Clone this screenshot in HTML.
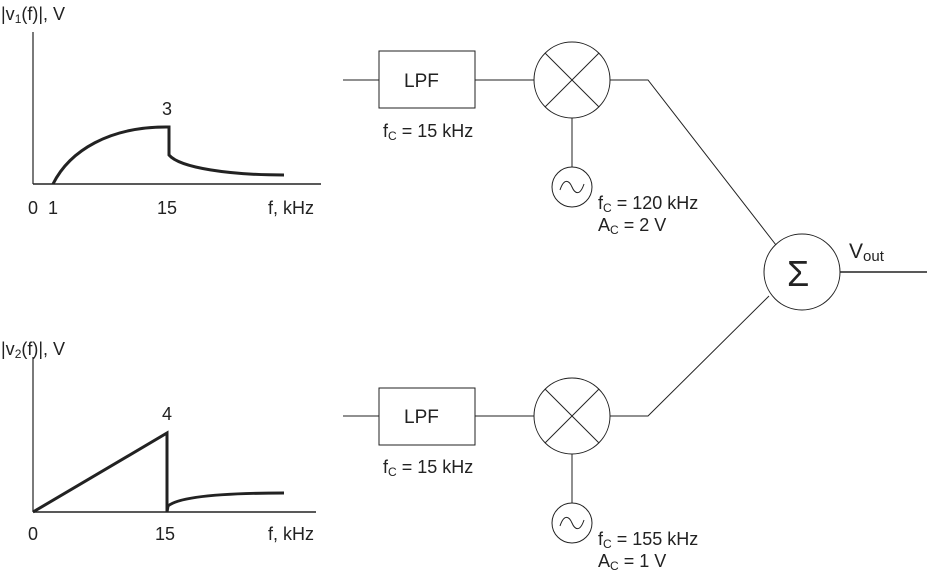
<!DOCTYPE html>
<html><head><meta charset="utf-8"><style>
body{margin:0;background:#fff}
svg text{font-family:"Liberation Sans",Arial,sans-serif;fill:#222}
</style></head><body>
<svg width="927" height="571" viewBox="0 0 927 571" xmlns="http://www.w3.org/2000/svg">
<g stroke="#222" fill="none">
<line x1="33" y1="32" x2="33" y2="184" stroke-width="1.2"/>
<line x1="33" y1="184" x2="321" y2="184" stroke-width="1.5"/>
<path d="M53,184 C70,150 110,127 166,127 L169,127 L169,155 C180,168 230,175 284,175" stroke-width="3"/>
<line x1="33" y1="357" x2="33" y2="512" stroke-width="1.2"/>
<line x1="33" y1="512" x2="316" y2="512" stroke-width="1.5"/>
<path d="M33,512 L167,433 L167,512 L168,506 C180,496 230,493 284,493" stroke-width="3"/>
<line x1="343" y1="80" x2="379" y2="80"/>
<rect x="379" y="51" width="96" height="57"/>
<line x1="475" y1="80" x2="534" y2="80"/>
<circle cx="572" cy="80" r="38"/>
<line x1="545" y1="53" x2="599" y2="107"/><line x1="599" y1="53" x2="545" y2="107"/>
<line x1="572" y1="118" x2="572" y2="167"/>
<circle cx="572" cy="187" r="20"/>
<path d="M560,190 C564,178 569,180 572,187 C575,194 580,196 584,184"/>
<polyline points="610,80 648,80 776,245"/>
<line x1="343" y1="416" x2="379" y2="416"/>
<rect x="379" y="388" width="96" height="57"/>
<line x1="475" y1="416" x2="534" y2="416"/>
<circle cx="572" cy="416" r="38"/>
<line x1="545" y1="389" x2="599" y2="443"/><line x1="599" y1="389" x2="545" y2="443"/>
<line x1="572" y1="454" x2="572" y2="503"/>
<circle cx="572" cy="523" r="20"/>
<path d="M560,526 C564,514 569,516 572,523 C575,530 580,532 584,520"/>
<polyline points="610,416 648,416 769,296"/>
<circle cx="802" cy="272" r="38"/>
<line x1="840" y1="272" x2="927" y2="272" stroke-width="1.5"/>
</g>
<g font-size="18">
<text x="1" y="20">|v<tspan font-size="12" dy="3">1</tspan><tspan dy="-3">(f)|, V</tspan></text>
<text x="162" y="115">3</text>
<text x="28" y="214">0</text><text x="48" y="214">1</text><text x="157" y="214">15</text>
<text x="268" y="214">f, kHz</text>
<text x="1" y="355">|v<tspan font-size="12" dy="3">2</tspan><tspan dy="-3">(f)|, V</tspan></text>
<text x="162" y="420">4</text>
<text x="28" y="540">0</text><text x="155" y="540">15</text>
<text x="268" y="540">f, kHz</text>
<text x="404" y="87" font-size="19">LPF</text>
<text x="404" y="423" font-size="19">LPF</text>
<text x="383" y="137">f<tspan font-size="12" dy="3">C</tspan><tspan dy="-3"> = 15 kHz</tspan></text>
<text x="383" y="473">f<tspan font-size="12" dy="3">C</tspan><tspan dy="-3"> = 15 kHz</tspan></text>
<text x="598" y="209">f<tspan font-size="12" dy="3">C</tspan><tspan dy="-3"> = 120 kHz</tspan></text>
<text x="598" y="231">A<tspan font-size="12" dy="3">C</tspan><tspan dy="-3"> = 2 V</tspan></text>
<text x="598" y="545">f<tspan font-size="12" dy="3">C</tspan><tspan dy="-3"> = 155 kHz</tspan></text>
<text x="598" y="567">A<tspan font-size="12" dy="3">C</tspan><tspan dy="-3"> = 1 V</tspan></text>
<text x="849" y="258" font-size="21">V<tspan font-size="15" dy="3">out</tspan></text>
<text x="787" y="286" font-size="36">Σ</text>
</g>
</svg>
</body></html>
